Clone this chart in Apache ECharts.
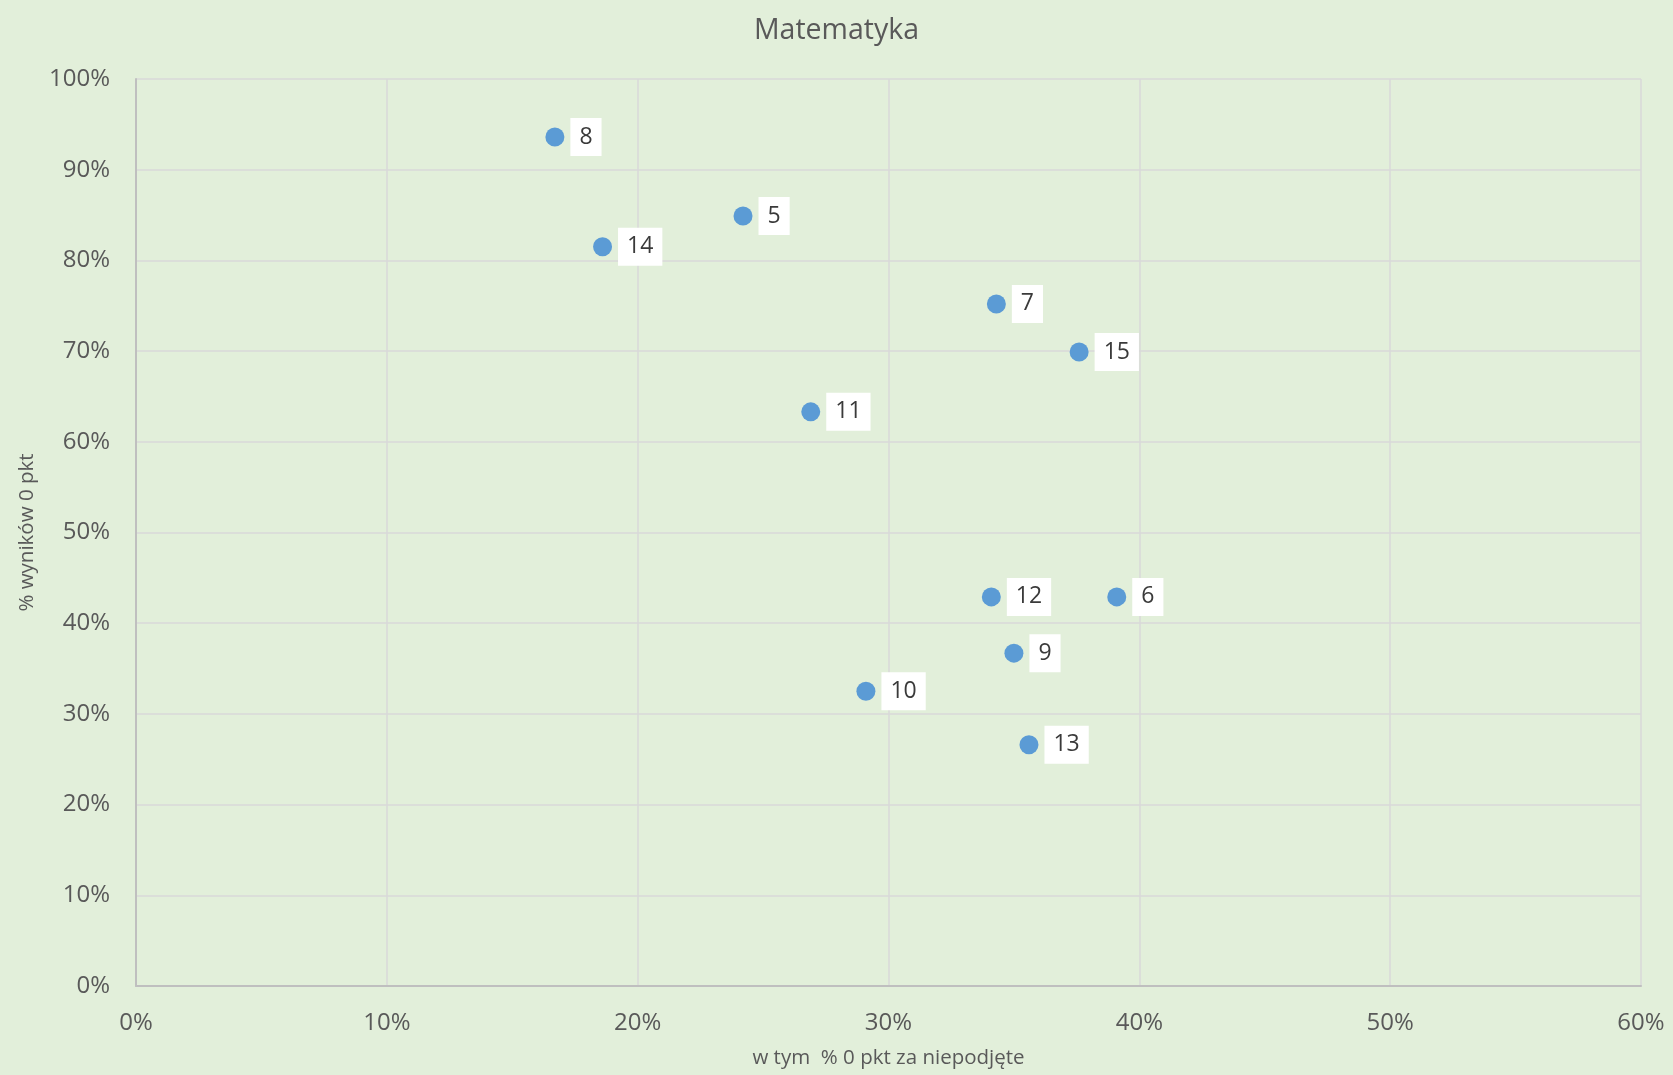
<!DOCTYPE html>
<html>
<head>
<meta charset="utf-8">
<script src="https://cdn.jsdelivr.net/npm/echarts@6/dist/echarts.min.js"></script>
<style>
  html, body { margin: 0; padding: 0; background: #e2efda; }
  #chart { width: 1673px; height: 1075px; }
</style>
</head>
<body>
<div id="chart"></div>
<script>
// numer zadania + wartości w %
const taskIds = ['8', '5', '14', '7', '15', '11', '12', '6', '9', '10', '13'];
const zeroUnanswered = [16.7, 24.2, 18.6, 34.3, 37.6, 26.9, 34.1, 39.1, 35.0, 29.1, 35.6];
const zeroScore = [93.6, 84.9, 81.5, 75.2, 69.9, 63.3, 42.9, 42.9, 36.7, 32.5, 26.6];
const xTicks = [0, 10, 20, 30, 40, 50, 60];
const yTicks = [0, 10, 20, 30, 40, 50, 60, 70, 80, 90, 100];

const font = '"Open Sans", "Noto Sans", sans-serif';
const txt = '#595959';

const points = taskIds.map((id, i) => [zeroUnanswered[i], zeroScore[i], id]);

const chart = echarts.init(document.getElementById('chart'));
const option = {
  backgroundColor: '#e2efda',
  textStyle: { fontFamily: font },
  title: {
    text: 'Matematyka',
    left: 'center',
    top: 11,
    textStyle: { fontFamily: font, fontSize: 28.5, fontWeight: 'normal', color: txt }
  },
  grid: { left: 136, right: 32, top: 79, bottom: 89, outerBoundsMode: 'none' },
  xAxis: {
    type: 'value',
    min: xTicks[0],
    max: xTicks[xTicks.length - 1],
    interval: 10,
    name: 'w tym  % 0 pkt za niepodjęte',
    nameLocation: 'middle',
    nameGap: 62,
    nameTextStyle: { fontFamily: font, fontSize: 20.5, color: txt },
    axisLine: { show: true, lineStyle: { color: '#bfbfbf', width: 2 } },
    axisTick: { show: false },
    axisLabel: { margin: 25, fontSize: 24, color: txt, fontFamily: font, formatter: v => v + '%' },
    splitLine: { show: true, lineStyle: { color: '#d9d9d9', width: 1.5 } }
  },
  yAxis: {
    type: 'value',
    min: yTicks[0],
    max: yTicks[yTicks.length - 1],
    interval: 10,
    name: '% wyników 0 pkt',
    nameLocation: 'middle',
    nameGap: 97,
    nameRotate: 90,
    nameTextStyle: { fontFamily: font, fontSize: 20.5, color: txt },
    axisLine: { show: true, lineStyle: { color: '#bfbfbf', width: 2 } },
    axisTick: { show: false },
    axisLabel: { margin: 26, fontSize: 24, color: txt, fontFamily: font, formatter: v => v + '%' },
    splitLine: { show: true, lineStyle: { color: '#d9d9d9', width: 1.5 } }
  },
  series: [{
    type: 'scatter',
    symbol: 'circle',
    symbolSize: 19,
    itemStyle: { color: '#5b9bd5', opacity: 1 },
    data: points,
    label: {
      show: true,
      position: 'right',
      distance: 6,
      formatter: p => p.data[2],
      backgroundColor: '#ffffff',
      padding: [8, 9, 7, 9],
      fontSize: 23,
      color: '#3a3a3a',
      fontFamily: font
    }
  }]
};
chart.setOption(option);
</script>
</body>
</html>
